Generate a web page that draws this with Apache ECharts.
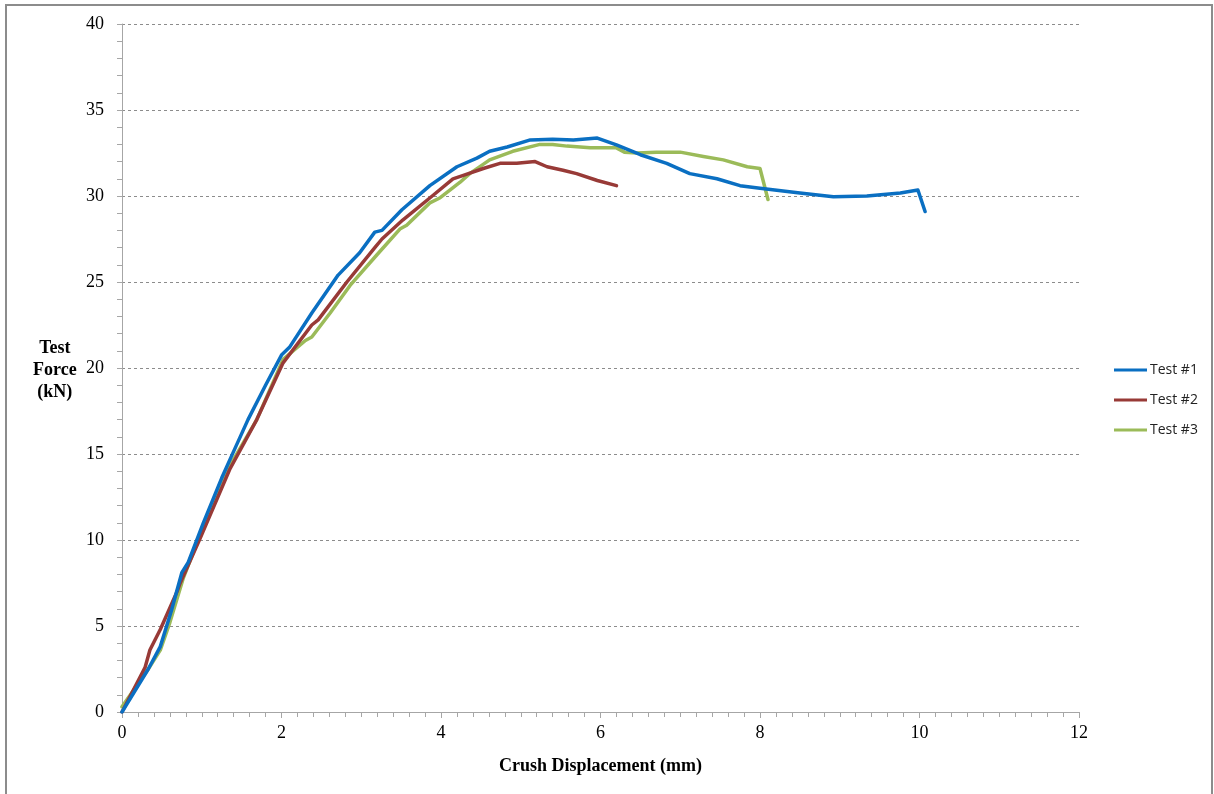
<!DOCTYPE html>
<html>
<head>
<meta charset="utf-8">
<script src="https://cdn.jsdelivr.net/npm/echarts@6/dist/echarts.min.js"></script>
<style>
html,body{margin:0;padding:0;background:#fff;}
#chart{width:1214px;height:794px;}
</style>
</head>
<body>
<div id="chart"></div>
<script>
const seriesNames = ['Test #1', 'Test #2', 'Test #3'];
const xTickLabels = ['0', '2', '4', '6', '8', '10', '12'];
const yTickLabels = ['0', '5', '10', '15', '20', '25', '30', '35', '40'];

const test1X = [0, 0.33, 0.48, 0.62, 0.75, 0.83, 1.02, 1.25, 1.39, 1.58, 1.8, 2.0, 2.1, 2.38, 2.71, 2.98, 3.17, 3.26, 3.51, 3.86, 4.2, 4.45, 4.61, 4.83, 5.12, 5.4, 5.66, 5.96, 6.2, 6.5, 6.83, 7.12, 7.46, 7.75, 8.0, 8.5, 8.92, 9.34, 9.76, 9.98, 10.07];
const test1Y = [0, 2.5, 3.8, 5.9, 8.1, 8.7, 11.0, 13.6, 15.05, 17.0, 19.0, 20.75, 21.2, 23.2, 25.4, 26.7, 27.9, 28.0, 29.2, 30.6, 31.7, 32.2, 32.6, 32.85, 33.26, 33.3, 33.26, 33.37, 32.97, 32.4, 31.9, 31.3, 31.0, 30.6, 30.45, 30.17, 29.95, 30.0, 30.17, 30.35, 29.1];

const test2X = [0, 0.29, 0.35, 0.48, 0.69, 0.73, 0.98, 1.35, 1.69, 2.02, 2.38, 2.46, 2.82, 3.17, 3.26, 3.52, 3.89, 4.15, 4.28, 4.53, 4.74, 4.95, 5.18, 5.33, 5.53, 5.7, 5.96, 6.2];
const test2Y = [0, 2.6, 3.6, 4.8, 7.0, 7.5, 10.1, 14.1, 17.0, 20.3, 22.5, 22.8, 25.0, 27.0, 27.5, 28.6, 30.0, 31.0, 31.2, 31.6, 31.9, 31.9, 32.0, 31.7, 31.5, 31.3, 30.9, 30.6];

const test3X = [0, 0.33, 0.48, 0.6, 0.77, 0.98, 1.25, 1.35, 1.69, 2.02, 2.3, 2.38, 2.61, 2.86, 3.2, 3.49, 3.57, 3.86, 3.99, 4.24, 4.36, 4.61, 4.9, 5.24, 5.4, 5.58, 5.87, 6.2, 6.3, 6.46, 6.7, 7.0, 7.29, 7.54, 7.84, 8.0, 8.1];
const test3Y = [0.3, 2.5, 3.6, 5.2, 7.8, 10.3, 13.5, 14.3, 17.0, 20.5, 21.6, 21.8, 23.2, 24.8, 26.6, 28.1, 28.3, 29.6, 29.9, 30.8, 31.3, 32.1, 32.6, 33.0, 33.0, 32.9, 32.8, 32.8, 32.55, 32.5, 32.55, 32.55, 32.3, 32.1, 31.7, 31.6, 29.8];

const colors = ['#0a6fc2', '#983a37', '#9bbb59'];

function pairs(xs, ys) { return xs.map((x, i) => [x, ys[i]]); }
const allData = [pairs(test1X, test1Y), pairs(test2X, test2Y), pairs(test3X, test3Y)];

const chart = echarts.init(document.getElementById('chart'), null, {renderer: 'canvas'});
const serif = '"Liberation Serif", "DejaVu Serif", serif';

chart.setOption({
  animation: false,
  backgroundColor: '#fff',
  color: colors,
  grid: {left: 122, right: 135, top: 24, bottom: 82, containLabel: false},
  graphic: [
    {type: 'rect', shape: {x: 6, y: 5, width: 1206, height: 790}, style: {fill: 'none', stroke: '#8c8c8c', lineWidth: 2}, silent: true, z: 100},
    {type: 'text', left: 33, top: 337, style: {text: 'Test\nForce\n(kN)', font: 'bold 18px ' + serif, fill: '#000', textAlign: 'center', lineHeight: 22, align: 'center'}, silent: true}
  ],
  legend: {
    orient: 'vertical',
    left: 1114,
    top: 363,
    padding: 0,
    icon: 'rect',
    itemWidth: 33,
    itemHeight: 3,
    itemGap: 16,
    data: seriesNames,
    textStyle: {fontFamily: '"Open Sans", "Liberation Sans", sans-serif', fontSize: 14, lineHeight: 14, color: '#222', padding: [0, 0, 0, -2]}
  },
  xAxis: {
    type: 'value', min: 0, max: 12, interval: 2,
    name: 'Crush Displacement (mm)', nameLocation: 'middle', nameGap: 45,
    nameTextStyle: {fontFamily: serif, fontWeight: 'bold', fontSize: 18, color: '#000'},
    axisLine: {show: true, lineStyle: {color: '#a6a6a6', width: 1}},
    axisTick: {show: true, inside: false, length: 6, lineStyle: {color: '#a6a6a6'}},
    minorTick: {show: true, splitNumber: 10, length: 5, lineStyle: {color: '#a6a6a6'}},
    axisLabel: {margin: 12, fontFamily: serif, fontSize: 18, color: '#000', formatter: (v) => xTickLabels[Math.round(v / 2)]},
    splitLine: {show: false}
  },
  yAxis: {
    type: 'value', min: 0, max: 40, interval: 5,
    axisLine: {show: true, lineStyle: {color: '#a6a6a6', width: 1}},
    axisTick: {show: true, inside: false, length: 5, lineStyle: {color: '#a6a6a6'}},
    minorTick: {show: true, splitNumber: 5, length: 5, lineStyle: {color: '#a6a6a6'}},
    axisLabel: {margin: 18, fontFamily: serif, fontSize: 18, color: '#000', formatter: (v) => yTickLabels[Math.round(v / 5)]},
    splitLine: {show: true, lineStyle: {color: '#8c8c8c', type: [3, 3], width: 1}}
  },
  series: seriesNames.map((n, i) => ({
    name: n,
    type: 'line',
    data: allData[i],
    symbol: 'none',
    smooth: false,
    lineStyle: {width: 3.5, color: colors[i], join: 'round', cap: 'round'},
    itemStyle: {color: colors[i]},
    z: 3 - i
  }))
});
</script>
</body>
</html>
